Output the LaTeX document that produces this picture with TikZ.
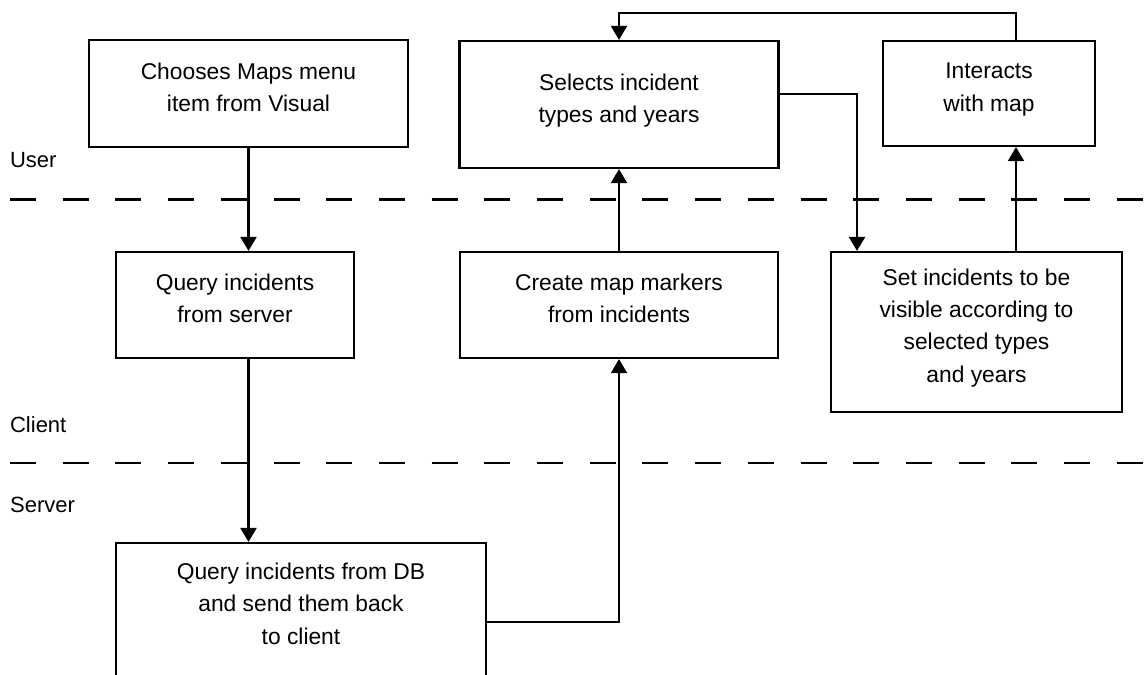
\documentclass[tikz,border=0pt]{standalone}
\usepackage{fontspec}
\setmainfont{Liberation Sans}
\usetikzlibrary{arrows.meta}

\begin{document}
\begin{tikzpicture}[
    x=0.5pt, y=-0.5pt,
    line width=1.1pt,
    >={Triangle[length=7pt,width=8pt]},
    box/.style={draw, align=center, inner sep=1pt, text depth=6.5pt,
      font=\fontsize{11.4}{16.2}\selectfont},
    divisor/.style={dash pattern=on 13pt off 13.35pt},
    camada/.style={inner sep=0pt, anchor=base west, font=\fontsize{11}{13}\selectfont},
  ]
  \useasboundingbox (0,0) rectangle (1147,675);

  % Camadas
  \draw[divisor] (10,199.5) -- (1147,199.5);
  \draw[divisor] (10,463) -- (1147,463);
  \node[camada] (user) at (9,167) {User};
  \node[camada] (client) at (9,432) {Client};
  \node[camada] (server) at (9,512) {Server};

  % Caixas
  \node[box, minimum width=159.5pt, minimum height=53.5pt] (choose) at (248.5,93.5)
    {Chooses Maps menu\\item from Visual};
  \node[box, minimum width=159.5pt, minimum height=63.5pt] (select) at (619,104.5)
    {Selects incident\\types and years};
  \node[box, minimum width=106pt, minimum height=52.5pt] (interact) at (989,93.5)
    {Interacts\\with map};
  \node[box, minimum width=119pt, minimum height=53pt] (queryc) at (235,305)
    {Query incidents\\from server};
  \node[box, minimum width=159pt, minimum height=53pt] (markers) at (619,305)
    {Create map markers\\from incidents};
  \node[box, minimum width=145.5pt, minimum height=80pt] (visible) at (976.5,332)
    {Set incidents to be\\visible according to\\selected types\\and years};
  \node[box, minimum width=185pt, minimum height=67.2pt] (querydb) at (301,610.2)
    {Query incidents from DB\\and send them back\\to client};

  % Fluxo
  \coordinate (retorno) at (619,622);
  \coordinate (desvio) at (857,94);
  \coordinate (laco) at (1016,13);

  \draw[->] (choose.south) -- (choose.south |- queryc.north);
  \draw[->] (choose.south |- queryc.south) -- (choose.south |- querydb.north);
  \draw[->] (querydb.east |- retorno) -| (markers.south);
  \draw[->] (markers.north) -- (select.south);
  \draw[->] (select.east |- desvio) -| (visible.north -| desvio);
  \draw[->] (laco |- visible.north) -- (laco |- interact.south);
  \draw[->] (laco |- interact.north) -- (laco) -| (select.north);
\end{tikzpicture}
\end{document}
